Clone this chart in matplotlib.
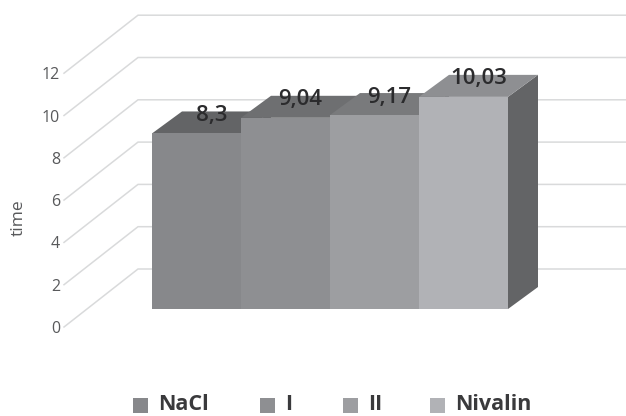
import matplotlib.pyplot as plt
from matplotlib.patches import Polygon, Rectangle

plt.rcParams["font.family"] = ["Open Sans", "DejaVu Sans"]

# Data
groups = ["NaCl", "I", "II", "Nivalin"]
values = [8.3, 9.04, 9.17, 10.03]
value_labels = ["8,3", "9,04", "9,17", "10,03"]
y_ticks = [0, 2, 4, 6, 8, 10, 12]

front_colors = ["#87888b", "#8e8f92", "#9d9ea1", "#b1b2b6"]
top_colors = ["#636466", "#6e6f71", "#797a7c", "#8e8f92"]
side_color = "#636466"
legend_colors = ["#87888b", "#8e8f92", "#9d9ea1", "#b1b2b6"]
grid_color = "#d9dadb"

W, H = 626, 416
BAR_PX = 89.0
UNIT_PX = 21.15
X0_PX, Y0_PX = 152.0, 309.0


# pixel distances to data units
def dx(px):
    return px / BAR_PX


def dy(px):
    return px / UNIT_PX


fig = plt.figure(figsize=(W / 100, H / 100), dpi=100)
ax = fig.add_axes([0, 0, 1, 1])
ax.set_xlim(-dx(X0_PX), dx(W - X0_PX))
ax.set_ylim(-dy(H - Y0_PX), dy(Y0_PX))
ax.axis("off")

# wall and floor gridlines, front-left corner then along the back wall
for t in y_ticks:
    ax.plot(
        [dx(64 - X0_PX), dx(138 - X0_PX), dx(W - X0_PX)],
        [t - dy(18), t + dy(40), t + dy(40)],
        color=grid_color,
        lw=1.1,
        solid_joinstyle="miter",
        zorder=1,
    )
    ax.text(
        dx(60 - X0_PX),
        t - dy(20),
        str(t),
        ha="right",
        va="center",
        fontsize=11.5,
        color="#58595b",
    )

ax.text(
    dx(19 - X0_PX),
    dy(Y0_PX - 218),
    "time",
    rotation=90,
    ha="center",
    va="center",
    fontsize=12.5,
    color="#58595b",
)

# 3D bars
depth_x, depth_y = dx(30), dy(22)
for i, v in enumerate(values):
    ax.add_patch(
        Polygon(
            [
                (i + 1, 0),
                (i + 1 + depth_x, depth_y),
                (i + 1 + depth_x, v + depth_y),
                (i + 1, v),
            ],
            facecolor=side_color,
            edgecolor="none",
            zorder=2 + i,
        )
    )
    ax.add_patch(
        Polygon(
            [
                (i, v),
                (i + depth_x, v + depth_y),
                (i + 1 + depth_x, v + depth_y),
                (i + 1, v),
            ],
            facecolor=top_colors[i],
            edgecolor="none",
            zorder=2 + i,
        )
    )
    ax.add_patch(
        Rectangle(
            (i, 0), 1, v, facecolor=front_colors[i], edgecolor="none", zorder=2 + i
        )
    )

# value labels sit above the middle of each bar top
for i, v in enumerate(values):
    ax.text(
        i + 0.5 + dx(15),
        v + dy(18),
        value_labels[i],
        ha="center",
        va="center",
        fontsize=16,
        fontweight=600,
        color="#2b2b2d",
        zorder=10,
    )

# legend placed by hand, the columns are unevenly spaced
legend_x = [133, 260, 343, 430]
for x, name, color in zip(legend_x, groups, legend_colors):
    ax.add_patch(
        Rectangle(
            (dx(x - X0_PX), dy(Y0_PX - 413)),
            dx(15),
            dy(15),
            facecolor=color,
            edgecolor="none",
        )
    )
    ax.text(
        dx(x + 25 - X0_PX),
        dy(Y0_PX - 405),
        name,
        ha="left",
        va="center",
        fontsize=15.5,
        fontweight="bold",
        color="#3a3a3c",
    )

fig.savefig("out.png", dpi=100)
